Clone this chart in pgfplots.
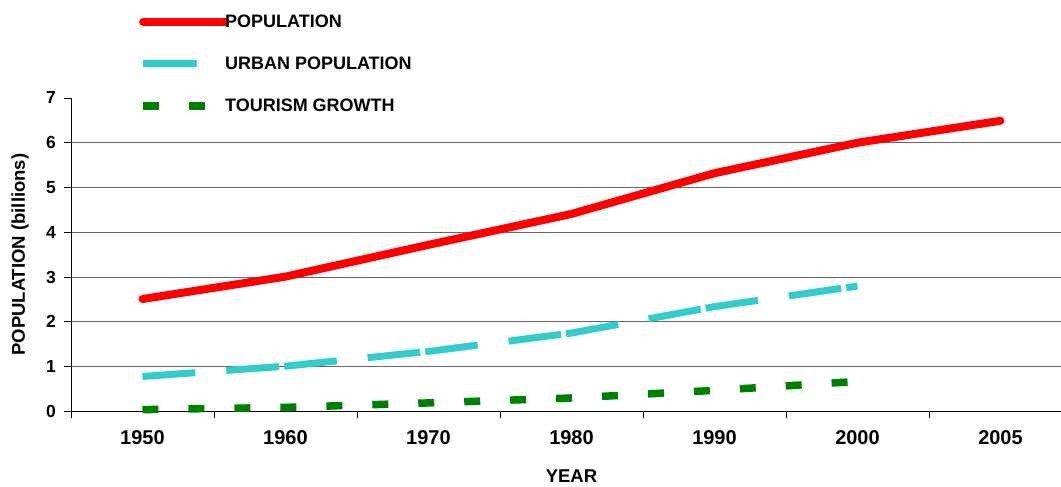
\documentclass[border=0pt]{standalone}
\usepackage{pgfplots}
\pgfplotsset{compat=1.18}
\usepackage{fontspec}
\setmainfont{Liberation Sans}
\definecolor{popred}{HTML}{FF0000}
\definecolor{urbcyan}{HTML}{33CCCC}
\definecolor{tourgreen}{HTML}{008000}
\begin{document}
\begin{tikzpicture}
\begin{axis}[
  scale only axis, width=990pt, height=313.6pt,
  xmin=-0.5, xmax=6.42, ymin=0, ymax=7,
  axis x line*=bottom, axis y line*=left,
  axis line style={black, line width=0.9pt, -},
  xtick={0,...,6}, xticklabels={1950,1960,1970,1980,1990,2000,2005},
  minor xtick={-0.5,0.5,...,5.5},
  ytick={0,...,6}, extra y ticks={7}, extra y tick style={grid=none},
  ymajorgrids, major grid style={black!60, line width=0.9pt},
  tick align=outside, major tick length=7pt, minor tick length=7pt,
  tick style={black, line width=0.9pt},
  major x tick style={draw=none},
  /pgf/number format/assume math mode=true,
  xticklabel style={font=\bfseries\fontsize{20}{20}\selectfont, yshift=-8.5pt},
  yticklabel style={font=\bfseries\fontsize{17.5}{17.5}\selectfont, xshift=-4.7pt},
  ylabel={POPULATION (billions)},
  ylabel style={font=\bfseries\fontsize{18.5}{18.5}\selectfont, at={(axis description cs:-0.0515,0.5)}, anchor=center},
  xlabel={YEAR},
  xlabel style={font=\bfseries\fontsize{18.5}{18.5}\selectfont, at={(axis description cs:0.5058,-0.207)}, anchor=center},
  legend style={at={(axis description cs:0.0687,1.266)}, anchor=north west, draw=none, fill=none,
    font=\bfseries\fontsize{18}{18}\selectfont, inner sep=0pt, row sep=28pt, column sep=-4pt,
    nodes={inner sep=0pt}},
  legend cell align=left,
  clip=false,
]
\addplot[popred, line width=8pt, line cap=round, line join=round,
  legend image code/.code={\path (0pt,0pt)--(82pt,0pt); \draw[popred, line width=8pt, line cap=round, solid] (4pt,0pt)--(68pt,0pt);}]
  coordinates {(0,2.51)(1,3.01)(2,3.72)(3,4.41)(4,5.32)(5,6.0)(6,6.49)};
\addlegendentry{POPULATION}
\addplot[urbcyan, line width=7pt, line cap=butt, dash pattern=on 53pt off 31pt on 53pt off 5pt,
  legend image code/.code={\path (0pt,0pt)--(82pt,0pt); \draw[urbcyan, line width=7pt, line cap=butt, solid] (0pt,0pt)--(54pt,0pt);}]
  coordinates {(0,0.78)(1,1.01)(2,1.34)(3,1.75)(4,2.34)(5,2.8)};
\addlegendentry{URBAN POPULATION}
\addplot[tourgreen, line width=7.5pt, line cap=butt, dash pattern=on 16pt off 30pt,
  legend image code/.code={\path (0pt,0pt)--(82pt,0pt); \draw[tourgreen, line width=7.5pt, line cap=butt, dash pattern=on 16pt off 30pt] (0pt,0pt)--(62pt,0pt);}]
  coordinates {(0,0.04)(1,0.09)(2,0.19)(3,0.30)(4,0.47)(5,0.67)};
\addlegendentry{TOURISM GROWTH}
\end{axis}
\path (current axis.south west) ++(-71pt,-74.3pt);
\path (current axis.north west) ++(0pt,98pt);
\end{tikzpicture}
\end{document}
